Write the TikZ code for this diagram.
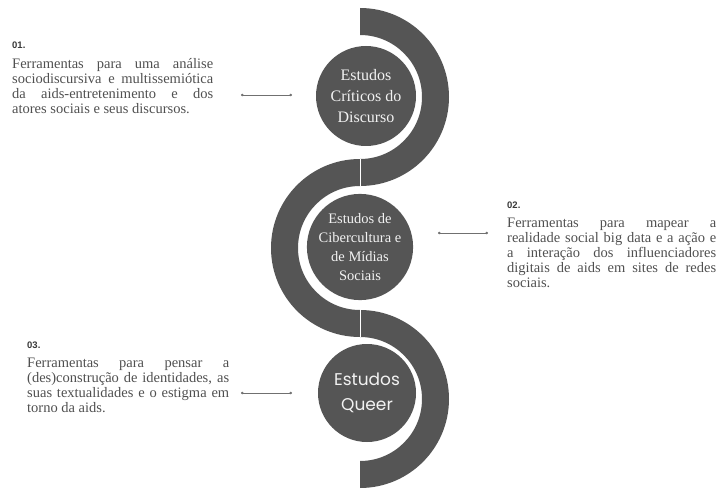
\documentclass[tikz,border=0pt]{standalone}
\usepackage{fontspec}
\setmainfont{Liberation Serif}
\newfontfamily\numfont{Liberation Sans}
\newfontfamily\queerfont{Poppins}
\usetikzlibrary{arrows.meta}
\definecolor{spine}{HTML}{555555}
\definecolor{bodytext}{HTML}{505050}
\definecolor{numtext}{HTML}{383838}
\definecolor{linkgray}{HTML}{707070}
\definecolor{disctext}{HTML}{F2F2F2}
% one justified line stretched to the block width, and a ragged last line
\newcommand{\jline}[1]{\hbox to\hsize{#1}}
\newcommand{\lline}[1]{\hbox{#1}}

\begin{document}
\begin{tikzpicture}[x=1pt,y=1pt,
  disc/.style={circle, fill=spine, minimum size=100pt, inner sep=0pt,
    text=disctext, align=center},
  numlabel/.style={anchor=base west, inner sep=0pt,
    font=\numfont\bfseries\fontsize{9.5}{10}\selectfont, text=numtext},
  bodypar/.style={anchor=base west, inner sep=0pt,
    font=\fontsize{14.5}{15}\selectfont, text=bodytext},
  link/.style={draw=linkgray, line width=0.6pt,
    {Circle[length=2.6pt]}-{Circle[length=2.6pt]}}
]
\useasboundingbox (0,0) rectangle (720,491);

% S-shaped spine: three half rings, alternating sides
\fill[spine] (360,483) arc[start angle=90,end angle=-90,radius=89]
  -- (360,332) arc[start angle=-90,end angle=90,radius=62] -- cycle;
\fill[spine] (360,332) arc[start angle=90,end angle=270,radius=89]
  -- (360,181) arc[start angle=270,end angle=90,radius=62] -- cycle;
\fill[spine] (360,181) arc[start angle=90,end angle=-90,radius=89]
  -- (360,30) arc[start angle=-90,end angle=90,radius=62] -- cycle;
% thin joints between the rings
\draw[white, line width=0.8pt] (360,305) -- (360,332);
\draw[white, line width=0.8pt] (360,154) -- (360,181);

% topic discs
\node[disc, font=\fontsize{16}{21}\selectfont] (d1) at (366,395)
  {Estudos\\Críticos do\\Discurso};
\node[disc, font=\fontsize{14.5}{19}\selectfont] (d2) at (360,244)
  {Estudos de\\Cibercultura e\\de Mídias\\Sociais};
\node[disc, minimum size=98pt, font=\queerfont\fontsize{17}{25}\selectfont] (d3) at (367,98)
  {Estudos\\Queer};

% descriptions
\node[numlabel] (n1) at (12,442) {01.};
\node[bodypar] (p1) at (12,422) {\vtop{\hsize=201pt
  \jline{Ferramentas para uma análise}
  \jline{sociodiscursiva e multissemiótica}
  \jline{da aids-entretenimento e dos}
  \lline{atores sociais e seus discursos.}}};

\node[numlabel] (n2) at (507,283) {02.};
\node[bodypar] (p2) at (507,264) {\vtop{\hsize=209pt
  \jline{Ferramentas para mapear a}
  \jline{realidade social big data e a ação e}
  \jline{a interação dos influenciadores}
  \jline{digitais de aids em sites de redes}
  \lline{sociais.}}};

\node[numlabel] (n3) at (27,143) {03.};
\node[bodypar] (p3) at (27,124) {\vtop{\hsize=202pt
  \jline{Ferramentas para pensar a}
  \jline{(des)construção de identidades, as}
  \jline{suas textualidades e o estigma em}
  \lline{torno da aids.}}};

% connectors
\coordinate (l1a) at (241,396);
\coordinate (l1b) at (292,396);
\coordinate (l2a) at (438,258);
\coordinate (l2b) at (488,258);
\coordinate (l3a) at (241,98);
\coordinate (l3b) at (292,98);
\draw[link] (l1a) -- (l1b);
\draw[link] (l2a) -- (l2b);
\draw[link] (l3a) -- (l3b);
\end{tikzpicture}
\end{document}
